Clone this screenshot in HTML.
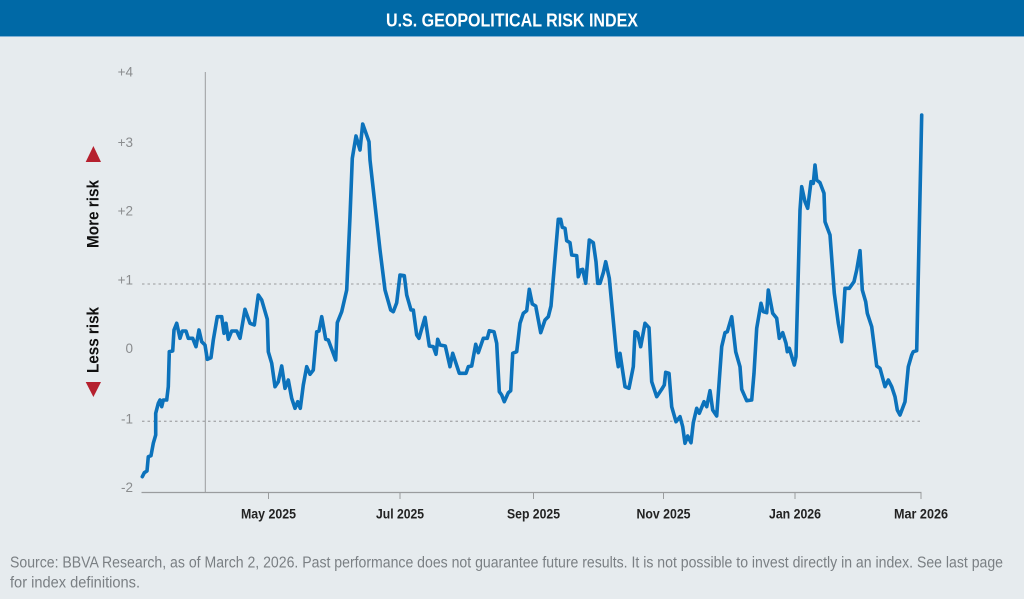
<!DOCTYPE html>
<html>
<head>
<meta charset="utf-8">
<style>
  html,body{margin:0;padding:0;background:#e6ebee;}
  svg{display:block;}
  text{font-family:"Liberation Sans Narrow","Liberation Sans",sans-serif;}
</style>
</head>
<body>
<svg width="1024" height="599" viewBox="0 0 1024 599" xmlns="http://www.w3.org/2000/svg">
  <rect x="0" y="0" width="1024" height="599" fill="#e6ebee"/>
  <rect x="0" y="0" width="1024" height="36" fill="#0069a6"/>
  <rect x="0" y="36" width="1024" height="1" fill="#7fb0d4"/>
  <text x="512" y="26.5" text-anchor="middle" font-size="18.5" font-weight="bold" fill="#ffffff" textLength="252" lengthAdjust="spacingAndGlyphs">U.S. GEOPOLITICAL RISK INDEX</text>

  <!-- gridlines -->
  <line x1="142" y1="284" x2="921" y2="284" stroke="#a9abad" stroke-width="1.3" stroke-dasharray="2.5,3"/>
  <line x1="142" y1="421.3" x2="921" y2="421.3" stroke="#a9abad" stroke-width="1.3" stroke-dasharray="2.5,3"/>

  <!-- vertical marker line -->
  <line x1="205.3" y1="72" x2="205.3" y2="492" stroke="#9a9c9e" stroke-width="1"/>

  <!-- x axis -->
  <line x1="141.5" y1="492.5" x2="921.5" y2="492.5" stroke="#9a9c9e" stroke-width="1.2"/>
  <g stroke="#9a9c9e" stroke-width="1">
    <line x1="268.5" y1="492" x2="268.5" y2="499"/>
    <line x1="400" y1="492" x2="400" y2="499"/>
    <line x1="533.5" y1="492" x2="533.5" y2="499"/>
    <line x1="663.5" y1="492" x2="663.5" y2="499"/>
    <line x1="795" y1="492" x2="795" y2="499"/>
    <line x1="921" y1="492" x2="921" y2="499"/>
  </g>
  <g font-size="14" font-weight="bold" fill="#222" text-anchor="middle">
    <text x="268.5" y="518.5" textLength="55" lengthAdjust="spacingAndGlyphs">May 2025</text>
    <text x="400" y="518.5" textLength="48" lengthAdjust="spacingAndGlyphs">Jul 2025</text>
    <text x="533.5" y="518.5" textLength="53" lengthAdjust="spacingAndGlyphs">Sep 2025</text>
    <text x="663.5" y="518.5" textLength="54" lengthAdjust="spacingAndGlyphs">Nov 2025</text>
    <text x="795" y="518.5" textLength="52" lengthAdjust="spacingAndGlyphs">Jan 2026</text>
    <text x="921" y="518.5" textLength="54" lengthAdjust="spacingAndGlyphs">Mar 2026</text>
  </g>

  <!-- y labels -->
  <g font-size="13.5" fill="#8a8c8e" text-anchor="end">
    <text x="133" y="76.5">+4</text>
    <text x="133" y="147">+3</text>
    <text x="133" y="215.5">+2</text>
    <text x="133" y="284.5">+1</text>
    <text x="133" y="353">0</text>
    <text x="133" y="423.5">-1</text>
    <text x="133" y="492">-2</text>
  </g>

  <!-- risk labels -->
  <polygon points="85.7,162 101,162 93.4,146" fill="#b5202e"/>
  <polygon points="85.7,382 101,382 93.4,397" fill="#b5202e"/>
  <text transform="translate(98.5,214) rotate(-90)" text-anchor="middle" font-size="16.5" font-weight="bold" fill="#111" textLength="68" lengthAdjust="spacingAndGlyphs">More risk</text>
  <text transform="translate(98.5,340) rotate(-90)" text-anchor="middle" font-size="16.5" font-weight="bold" fill="#111" textLength="66" lengthAdjust="spacingAndGlyphs">Less risk</text>

  <!-- series -->
  <polyline fill="none" stroke="#0c72bb" stroke-width="3.6" stroke-linejoin="round" stroke-linecap="round" points="
142.3,476.7 144.3,472.7 147,471 148.3,456.7 151,455.7 153.3,443.3 155.7,435 155.7,413.3 158.3,403.3 160,400 161.7,406.7 163.3,400 166.7,400 168.3,386.7 169.3,351.7 172.7,351 174,330 176.7,323.3 180,338.3 182.3,331 186,331 188.3,338.3 192.7,338.3 196,346.7 199,330 201.7,341.7 205,345 207.3,359.3 211,357.7 213.3,340 217.3,316.7 221.7,316.7 224,333.3 226,323.3 228.3,339.3 231.7,331 236.7,331 240,338.3 245,309.3 250,323.3 254.3,325 258.3,295 261.7,300 267.3,319.3 268.3,351.7 271.7,363.3 275,386.7 278.3,381.7 281.7,366 285,388.3 288.3,380 291.7,398.3 295,408.3 297.7,401.7 300.3,408.3 303.3,385 306.7,366.7 310,374.3 313.3,370 316.7,331.7 319,331 321.7,316.7 325.7,339.3 328.3,340 335.7,360 337.3,322.7 341.7,311.7 346.7,290 350,216.7 352.3,158.3 356,136 360,150 362.7,124 369,141.7 370,160 380,250 385,290 390.7,310 393.3,311.7 396.7,302.7 400,275 404.3,275.7 406.7,295 411,310 413.3,310 416.7,335 419,338.3 425,317.3 429.3,346 433.3,346.7 436,354.3 437.7,339.3 440,345 445.3,346 450,366.7 452.7,353.3 459.3,373.3 466,373.3 468.3,366.7 471.7,366 475.7,344.3 478.3,352.7 483.3,338.3 487.3,338.3 489.3,330.7 494,331.7 496.7,343.3 499.3,391.7 501.7,395 504.3,401.7 508.3,392.7 510.7,390.7 512.7,353.3 516.7,351.7 520,323.3 523.3,313.3 526.7,310.7 529.3,289.3 532.3,304 535.7,306 540.7,332.7 545,320 548.3,316.7 551,306 554.3,266.7 558.3,219.3 560.7,219.3 562.3,227.3 565,228.3 566.7,240.7 570,242.7 571.7,255 576.7,255.7 578.3,276.7 580.7,270 582.7,269.3 585.7,283.3 589.3,240 593.3,242.7 596,261.7 597.7,283.3 600,283.3 603.3,272.7 605.7,261.7 609.3,278.3 616.7,356.7 618.3,366.7 620,353.3 625,386.7 629,388.3 633.3,366.7 635,331.7 637.7,333.3 640.7,346.7 645,323.3 649,327.7 651.7,381.7 656.7,396.7 661.7,389.3 664.3,385 665.7,372.3 669,373.3 671.7,406.7 676,421.7 680,416.7 682.7,426.7 685,443.3 687.7,436 691,442.7 693.3,422.7 696.7,408.3 699.3,413.3 704,401.7 706.7,406.7 710,390.7 712.7,410 716.7,416 720,370 721.7,346.7 725,332.7 727.3,331.7 731.7,316.7 735.7,351.7 740,366.7 741.7,389.3 746.7,400.7 751.7,400 754,373.3 756.7,328.3 761,303.3 763.3,311.7 766.7,312.7 768.3,290 772.7,313.3 776.7,318.3 779.3,338.3 782.7,332.7 786,343.3 787.3,351.7 789.3,348.3 794.3,365 796,356.7 800,210 801.7,186.7 805,201.7 807.7,208.3 811,181.7 813.3,183.3 815,165 816.7,180 820,182.7 824,193.3 825,221.7 830,235 834.3,293.3 838.3,323.3 841.7,341.7 845,288.3 849.3,288.3 854,281.7 856.7,270 860,250.7 862.3,290 865.7,301.7 867.3,313.3 871.7,326.7 876.7,366 880,368.3 885,386.7 888.3,380 891.7,386.7 895,396.7 897.3,410 900,415 905,401.7 908.3,366.7 911.7,355 913.3,351.7 916.7,350.7 921.7,115"/>

  <!-- footer -->
  <g font-size="15.5" fill="#7a7f83">
    <text x="10" y="567.5" textLength="993" lengthAdjust="spacingAndGlyphs">Source: BBVA Research, as of March 2, 2026. Past performance does not guarantee future results. It is not possible to invest directly in an index. See last page</text>
    <text x="10" y="587.5" textLength="130" lengthAdjust="spacingAndGlyphs">for index definitions.</text>
  </g>
</svg>
</body>
</html>
